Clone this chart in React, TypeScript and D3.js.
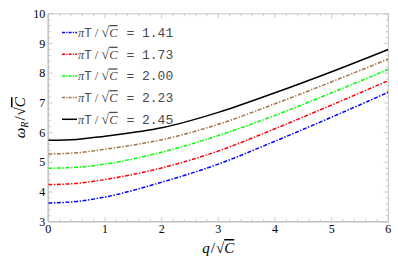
import * as d3 from "d3";

// values (q / sqrt(C) -> omega_R / sqrt(C))
const qValues = [0, 0.5, 1, 2, 3, 4, 5, 6];
const wBlue = [3.63, 3.68, 3.83, 4.33, 4.94, 5.71, 6.52, 7.36];
const wRed = [4.25, 4.29, 4.42, 4.81, 5.38, 6.13, 6.93, 7.75];
const wGreen = [4.8, 4.83, 4.94, 5.34, 5.9, 6.58, 7.34, 8.13];
const wBrown = [5.28, 5.32, 5.44, 5.76, 6.28, 6.97, 7.71, 8.48];
const wBlack = [5.74, 5.77, 5.88, 6.16, 6.68, 7.34, 8.05, 8.8];

const legendValues = ["1.41", "1.73", "2.00", "2.23", "2.45"];
const seriesColors = ["#0000ff", "#ff0000", "#00ff00", "#a37446", "#000000"];
const xTicks = [0, 1, 2, 3, 4, 5, 6];
const yTicks = [3, 4, 5, 6, 7, 8, 9, 10];

const W = 398;
const H = 271;
const M = { left: 48.3, right: 9.7, top: 13.8, bottom: 49.3 };
const FRAME = "#c4c4c4";
const SERIF = "'Liberation Serif', 'DejaVu Serif', serif";
const MONO = "'Liberation Mono', 'DejaVu Sans Mono', monospace";

export default function App() {
  const x = d3.scaleLinear().domain([0, 6]).range([M.left, W - M.right]);
  const y = d3.scaleLinear().domain([3, 10]).range([H - M.bottom, M.top]);

  const allSeries = [wBlue, wRed, wGreen, wBrown, wBlack];
  const line = d3
    .line<number>()
    .x((_, i) => x(qValues[i]))
    .y((d) => y(d))
    .curve(d3.curveMonotoneX);

  const minorX = d3.range(0, 6.001, 0.2);
  const minorY = d3.range(3, 10.001, 0.2);
  const [x0, x1] = x.range();
  const [y0, y1] = y.range();

  return (
    <svg
      width={W}
      height={H}
      style={{ position: "absolute", left: 0, top: 0, background: "#fff" }}
    >
      <defs>
        <clipPath id="plot">
          <rect x={x0} y={y1} width={x1 - x0} height={y0 - y1} />
        </clipPath>
      </defs>

      {/* frame: left and bottom a bit heavier */}
      <rect x={x0} y={y1} width={x1 - x0} height={y0 - y1} fill="none" stroke={FRAME} strokeWidth={1} />
      <line x1={x0} x2={x0} y1={y0} y2={y1} stroke={FRAME} strokeWidth={1.6} />
      <line x1={x0} x2={x1} y1={y0} y2={y0} stroke={FRAME} strokeWidth={1.6} />

      {/* ticks, all four sides */}
      {minorX.map((v, i) => {
        const major = Math.abs(v - Math.round(v)) < 1e-6;
        const len = major ? 4.5 : 2.5;
        return (
          <g key={"tx" + i} stroke={FRAME} strokeWidth={0.9}>
            <line x1={x(v)} x2={x(v)} y1={y0} y2={y0 - len} />
            <line x1={x(v)} x2={x(v)} y1={y1} y2={y1 + len} />
          </g>
        );
      })}
      {minorY.map((v, i) => {
        const major = Math.abs(v - Math.round(v)) < 1e-6;
        const len = major ? 4.5 : 2.5;
        return (
          <g key={"ty" + i} stroke={FRAME} strokeWidth={0.9}>
            <line x1={x0} x2={x0 + len} y1={y(v)} y2={y(v)} />
            <line x1={x1} x2={x1 - len} y1={y(v)} y2={y(v)} />
          </g>
        );
      })}

      {/* tick labels */}
      {xTicks.map((t) => (
        <text key={"lx" + t} x={x(t)} y={y0 + 11} textAnchor="middle" fontFamily={SERIF} fontSize={12}>
          {t}
        </text>
      ))}
      {yTicks.map((t) => (
        <text key={"ly" + t} x={x0 - 3} y={y(t) + 4} textAnchor="end" fontFamily={SERIF} fontSize={12}>
          {t}
        </text>
      ))}

      {/* curves */}
      <g clipPath="url(#plot)" fill="none">
        {allSeries.map((s, i) => (
          <path
            key={"s" + i}
            d={line(s) || ""}
            stroke={seriesColors[i]}
            strokeWidth={1.5}
            strokeDasharray={i === 4 ? undefined : "4,1.6,1.4,1.6"}
          />
        ))}
      </g>

      {/* legend */}
      {legendValues.map((v, i) => {
        const ly = 32.5 + i * 21.7;
        return (
          <g key={"lg" + i}>
            <line
              x1={62}
              x2={77}
              y1={ly}
              y2={ly}
              stroke={seriesColors[i]}
              strokeWidth={1.5}
              strokeDasharray={i === 4 ? undefined : "3,1.2,1.2,1.2"}
            />
            <text x={78} y={ly + 4.5} fontSize={12.5} fill="#4a4a4a">
              <tspan fontFamily={SERIF} fontStyle="italic">π</tspan>
              <tspan fontFamily={MONO}>T</tspan>
              <tspan fontFamily={SERIF} dx={3}>/</tspan>
              <tspan fontFamily={SERIF} dx={3} fontSize={14.5}>√</tspan>
              <tspan fontFamily={SERIF} fontStyle="italic" style={{ textDecoration: "overline" }}>C</tspan>
              <tspan fontFamily={MONO} fontSize={13} dx={1}> = {v}</tspan>
            </text>
          </g>
        );
      })}

      {/* axis labels */}
      <text x={(x0 + x1) / 2} y={253} textAnchor="middle" fontFamily={SERIF} fontSize={15}>
        <tspan fontStyle="italic">q</tspan>
        <tspan dx={1}>/</tspan>
        <tspan dx={1}>√</tspan>
        <tspan fontStyle="italic" style={{ textDecoration: "overline" }}>C</tspan>
      </text>
      <text
        transform={`translate(25,${(y0 + y1) / 2}) rotate(-90)`}
        textAnchor="middle"
        fontFamily={SERIF}
        fontSize={15}
      >
        <tspan fontStyle="italic">ω</tspan>
        <tspan fontStyle="italic" fontSize={10} dy={3}>R</tspan>
        <tspan dy={-3} dx={1}>/</tspan>
        <tspan dx={1}>√</tspan>
        <tspan fontStyle="italic" style={{ textDecoration: "overline" }}>C</tspan>
      </text>
    </svg>
  );
}
